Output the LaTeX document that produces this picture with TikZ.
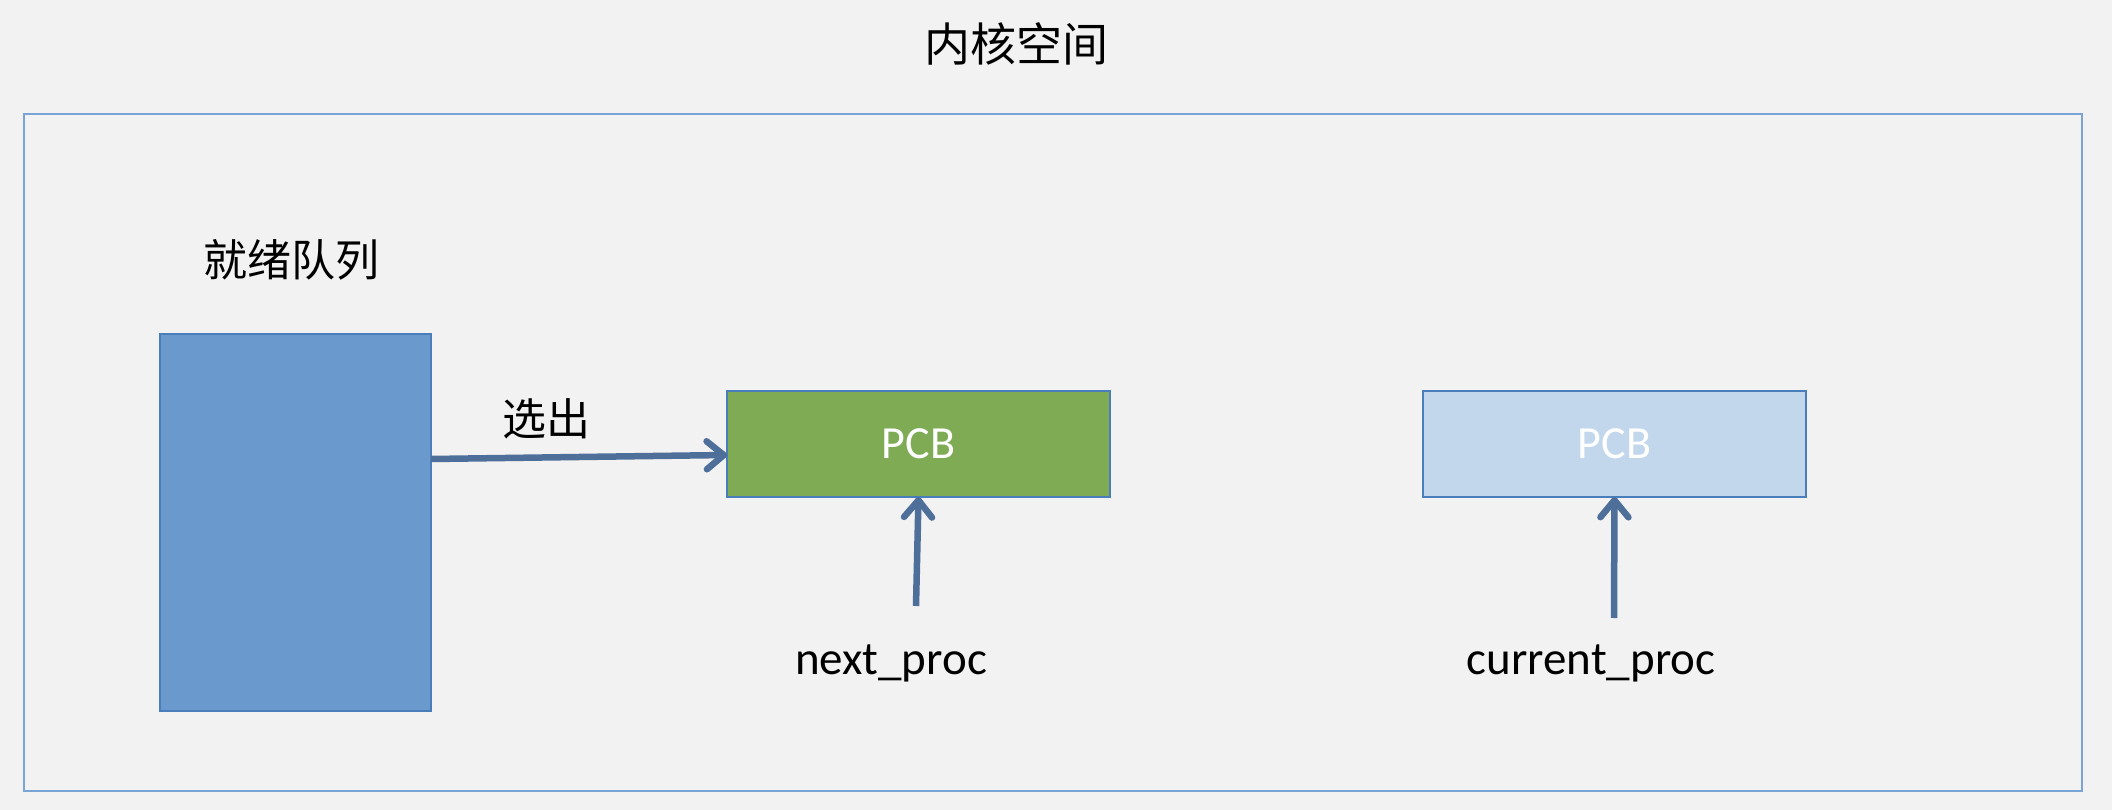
\documentclass[tikz,border=0pt]{standalone}
\usepackage{fontspec}
\setmainfont{Carlito}
\newfontfamily\cjk{Noto Sans CJK SC}
\usetikzlibrary{arrows.meta}
\definecolor{bgc}{HTML}{F2F2F2}
\definecolor{framec}{HTML}{7AA3D6}
\definecolor{edgec}{HTML}{4A7EBB}
\definecolor{queuec}{HTML}{6999CD}
\definecolor{greenc}{HTML}{7FAB55}
\definecolor{lightc}{HTML}{C3D7EC}
\definecolor{arrc}{HTML}{4E6F99}
\tikzset{
  boxst/.style={draw=edgec, line width=2.5pt, inner sep=0pt, outer sep=0pt},
  pcbtext/.style={text=white, font=\fontsize{46}{54}\selectfont},
  lbl/.style={font=\fontsize{47}{56}\selectfont, inner sep=0pt, anchor=base},
  cjklbl/.style={font=\cjk\fontsize{44}{52}\selectfont, inner sep=0pt},
  arr/.style={draw=arrc, line width=6.5pt, -{Straight Barb[length=17pt,width=28pt,line width=6.5pt,round]}},
}
\begin{document}
\begin{tikzpicture}[x=1pt,y=-1pt]
\useasboundingbox[fill=bgc] (0,0) rectangle (2112,810);
\draw[framec, line width=2.5pt] (24,114) rectangle (2082,791);
\node[font=\cjk\fontsize{46}{54}\selectfont, inner sep=0pt] (title) at (1016,44) {内核空间};
\node[cjklbl] (qlabel) at (291,260) {就绪队列};
\node[boxst, fill=queuec, minimum width=271pt, minimum height=377pt] (queue) at (295.5,522.5) {};
\node[boxst, fill=greenc, minimum width=383pt, minimum height=106pt, pcbtext] (pcb1) at (918.5,444) {PCB};
\node[boxst, fill=lightc, minimum width=383pt, minimum height=106pt, pcbtext] (pcb2) at (1614.5,444) {PCB};
\node[cjklbl] (sel) at (546,419) {选出};
\node[lbl] (next) at (891,674) {next\_proc};
\node[lbl] (cur) at (1591,674) {current\_proc};
\coordinate (qout) at (queue.east |- 0,459);
\coordinate (nstart) at (916,606);
\coordinate (cstart) at (1614,618);
\draw[arr] (qout) -- (pcb1.west |- 0,455);
\draw[arr] (nstart) -- (pcb1.south);
\draw[arr] (cstart) -- (pcb2.south);
\end{tikzpicture}
\end{document}
